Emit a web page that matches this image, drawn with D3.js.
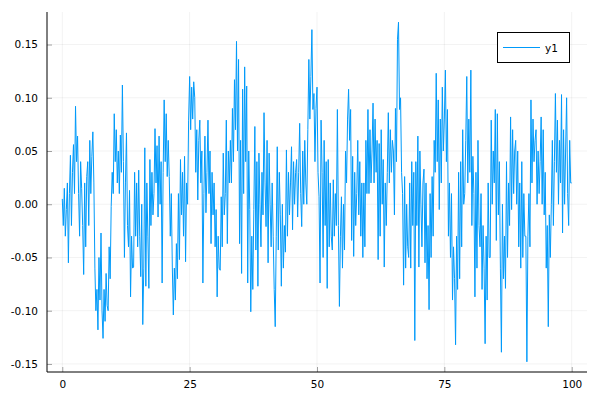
<!DOCTYPE html>
<html><head><meta charset="utf-8">
<script src="https://cdn.jsdelivr.net/npm/d3@7"></script>
<style>body{margin:0;background:#fff}svg{display:block}text{font-family:"DejaVu Sans",sans-serif;font-size:10.5px;fill:#000}</style>
</head><body><svg id="c" width="600" height="400"></svg>
<script>
const xStep = 0.2;
const yValues = [
 0.005,-0.020,0.015,-0.030,-0.005, 0.020,-0.055,0.010,0.046,-0.020, 0.030,0.056,0.010,0.092,0.040, 0.064,0.010,-0.030,0.040,0.015,
 -0.020,-0.066,0.020,-0.040,0.026, 0.040,-0.020,0.060,0.010,0.045, 0.068,0.020,-0.060,-0.100,-0.080, -0.118,-0.050,-0.090,-0.027,-0.100,
 -0.126,-0.080,-0.110,-0.065,-0.095, -0.100,-0.040,-0.070,-0.002,0.030, 0.010,0.085,0.040,0.070,0.020, 0.050,0.010,0.065,0.030,0.112,
 0.040,-0.050,0.020,0.067,-0.020, -0.040,0.013,-0.087,-0.030,-0.060, -0.059,0.030,-0.030,0.020,-0.040, 0.032,-0.030,-0.068,0.000,-0.113,
 -0.060,0.053,-0.077,0.020,-0.030, -0.079,0.042,-0.020,0.030,-0.010, 0.010,0.071,0.020,0.055,-0.012, 0.064,0.000,0.040,-0.074,0.030,
 0.098,0.040,0.085,0.026,0.060, 0.026,-0.030,0.010,-0.059,-0.104, -0.060,-0.090,-0.037,-0.070,0.010, -0.052,0.042,-0.010,0.030,-0.030,
 0.045,-0.054,0.020,0.000,0.079, 0.120,0.070,0.110,0.080,0.115, 0.100,0.030,0.070,0.004,0.060, 0.079,0.020,0.050,-0.074,0.010,
 0.064,-0.008,0.030,0.079,0.010, 0.050,-0.037,0.030,-0.010,0.020, -0.040,-0.005,-0.087,-0.030,-0.060, -0.062,0.007,-0.040,0.048,-0.010,
 0.010,0.079,-0.037,0.050,0.020, 0.060,0.020,0.090,0.040,0.117, 0.070,0.153,0.050,0.136,-0.037, 0.060,-0.065,0.108,0.010,0.129,
 0.040,0.111,-0.074,0.050,-0.005, -0.101,-0.030,-0.080,-0.005,0.073, -0.043,0.040,-0.077,0.048,0.000, -0.040,0.030,-0.010,0.086,0.020,
 -0.021,0.060,-0.055,0.048,0.000, -0.040,0.020,-0.030,-0.080,-0.115, -0.030,0.054,-0.043,0.030,-0.010, -0.077,0.000,-0.060,-0.020,-0.045,
 0.051,-0.030,0.030,-0.010,0.020, 0.054,-0.024,0.040,0.000,0.030, 0.042,-0.012,0.030,0.076,0.010, -0.021,0.050,0.000,0.060,0.020,
 0.000,0.070,0.136,0.080,0.120, 0.164,0.089,0.104,0.040,0.090, 0.110,0.030,0.007,-0.074,0.079, 0.030,-0.050,0.060,-0.020,0.040,
 -0.079,0.042,-0.040,0.020,-0.030, -0.043,0.023,-0.030,0.010,-0.020, 0.089,-0.020,-0.096,-0.030,0.007, -0.060,0.000,-0.043,0.050,0.020,
 0.080,0.108,0.060,0.089,-0.034, 0.045,-0.049,0.030,-0.020,0.010, 0.060,-0.010,0.040,-0.030,0.020, -0.050,0.020,-0.040,0.060,0.010,
 0.089,0.010,0.070,0.020,0.050, 0.095,0.020,0.080,0.030,0.060, -0.052,0.057,-0.030,0.070,0.000, 0.042,-0.059,0.020,-0.020,0.030,
 0.086,0.020,0.070,0.030,0.060, 0.050,-0.010,0.090,0.040,0.155, 0.171,0.089,0.100,0.030,0.010, -0.076,0.026,-0.060,0.000,-0.040,
 -0.050,0.020,-0.060,0.040,-0.020, 0.030,-0.128,0.040,-0.020,0.064, -0.059,0.050,0.000,-0.040,0.020, 0.033,-0.055,0.020,-0.070,-0.020,
 -0.099,0.010,-0.050,0.026,-0.030, 0.060,0.030,0.123,0.040,0.098, -0.005,0.080,0.020,0.110,0.050, 0.080,0.126,0.040,0.089,-0.030,
 0.020,-0.050,0.010,-0.090,-0.040, -0.070,-0.132,-0.030,-0.080,0.030, -0.070,0.040,-0.040,0.070,0.000, 0.010,0.060,0.120,0.020,0.080,
 0.030,0.126,-0.020,0.045,0.010, -0.087,0.030,-0.060,0.060,-0.020, -0.040,0.010,-0.080,-0.020,-0.060, -0.131,-0.030,-0.090,0.020,-0.050,
 -0.050,0.079,0.000,0.050,0.020, 0.089,-0.034,0.085,-0.010,0.040, -0.060,-0.139,0.000,-0.070,-0.030, -0.079,0.040,-0.050,0.020,-0.020,
 0.082,-0.005,0.070,0.010,0.050, 0.060,0.000,0.050,-0.040,0.020, -0.060,0.040,-0.050,0.010,-0.030, -0.030,-0.148,-0.030,0.010,-0.040,
 0.098,0.020,0.080,0.040,0.060, 0.070,0.000,0.050,0.010,0.040, 0.082,0.000,0.070,-0.010,0.030, -0.060,-0.020,-0.115,-0.010,-0.050,
 0.000,0.060,-0.020,0.040,0.104, 0.030,0.079,0.000,0.060,0.020, 0.103,-0.027,0.070,0.000,0.050, 0.100,0.010,-0.020,0.060,0.020,
 0.020
];
const xTicks = [0, 25, 50, 75, 100];
const yTicks = [-0.15, -0.10, -0.05, 0.00, 0.05, 0.10, 0.15];
const seriesName = "y1";

const data = yValues.map((v, i) => ({x: i * xStep, y: v}));
const svg = d3.select("#c");
const L = 47, R = 587, T = 12, B = 372;
const xMin = d3.min(data, d => d.x), xMax = d3.max(data, d => d.x);
const yMin = d3.min(data, d => d.y), yMax = d3.max(data, d => d.y);
const xp = (xMax - xMin) * 0.03, yp = (yMax - yMin) * 0.03;
const x = d3.scaleLinear().domain([xMin - xp, xMax + xp]).range([L, R]);
const y = d3.scaleLinear().domain([yMin - yp, yMax + yp]).range([B, T]);

svg.append("g").selectAll("line").data(xTicks).join("line")
  .attr("x1", d => x(d)).attr("x2", d => x(d)).attr("y1", T).attr("y2", B)
  .attr("stroke", "#000").attr("stroke-opacity", 0.1).attr("stroke-width", 0.5);
svg.append("g").selectAll("line").data(yTicks).join("line")
  .attr("x1", L).attr("x2", R).attr("y1", d => y(d)).attr("y2", d => y(d))
  .attr("stroke", "#000").attr("stroke-opacity", 0.1).attr("stroke-width", 0.5);

const xAxis = d3.axisBottom(x).tickValues(xTicks).tickFormat(d3.format("d")).tickSizeInner(-5).tickSizeOuter(0).tickPadding(9);
const yAxis = d3.axisLeft(y).tickValues(yTicks).tickFormat(d3.format(".2f")).tickSizeInner(-5).tickSizeOuter(0).tickPadding(9);
const gx = svg.append("g").attr("transform", `translate(0,${B})`).call(xAxis);
const gy = svg.append("g").attr("transform", `translate(${L},0)`).call(yAxis);
[gx, gy].forEach(g => {
  g.select(".domain").remove();
  g.selectAll(".tick line").attr("stroke", "#000").attr("stroke-opacity", 0.6).attr("stroke-width", 0.6);
  g.selectAll("text").attr("font-family", '"DejaVu Sans",sans-serif').attr("font-size", 10.5).attr("fill", "#000");
});
gy.selectAll("text").text(d => d3.format(".2f")(d).replace("−", "-"));
svg.append("line").attr("x1", L).attr("x2", L).attr("y1", T).attr("y2", B).attr("stroke", "#000").attr("stroke-width", 1);
svg.append("line").attr("x1", L).attr("x2", R).attr("y1", B).attr("y2", B).attr("stroke", "#000").attr("stroke-width", 1);

const line = d3.line().x(d => x(d.x)).y(d => y(d.y));
svg.append("path").datum(data).attr("d", line).attr("fill", "none")
  .attr("stroke", "#009AFA").attr("stroke-width", 1).attr("stroke-linejoin", "round");

const lg = svg.append("g");
lg.append("rect").attr("x", 497.5).attr("y", 32.5).attr("width", 72).attr("height", 30)
  .attr("fill", "#fff").attr("stroke", "#000").attr("stroke-width", 1);
lg.append("line").attr("x1", 503).attr("x2", 540).attr("y1", 47.5).attr("y2", 47.5)
  .attr("stroke", "#009AFA").attr("stroke-width", 1);
lg.append("text").attr("x", 545).attr("y", 51.5).text(seriesName);
</script></body></html>
